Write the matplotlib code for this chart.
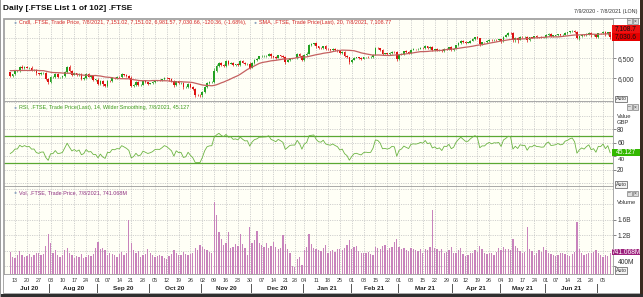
import numpy as np
import pandas as pd
import matplotlib
matplotlib.use("Agg")
import matplotlib.pyplot as plt
from matplotlib.patches import Rectangle
from matplotlib.transforms import blended_transform_factory

plt.rcParams['font.family'] = ['Liberation Sans', 'DejaVu Sans']

W, H = 643, 297

# trading days shown (LSE holidays dropped, Dec 28 kept as the chart labels it)
holidays = ["2020-08-31", "2020-12-25", "2021-01-01", "2021-04-02",
            "2021-04-05", "2021-05-03", "2021-05-31"]
dates = pd.bdate_range("2020-07-09", "2021-07-08")
dates = dates[~dates.isin(pd.to_datetime(holidays))]

# closes before the window, only used to seed SMA(20) / RSI(14)
pre_close = [6049, 5986, 6068, 6015, 5993, 6068, 6144, 6219, 6077,
             6166, 6220, 6382, 6341, 6484, 6473, 6335, 6329, 6077, 6105,
             6064, 6243, 6254, 6224, 6293, 6245, 6320, 6124, 6147, 6159,
             6225, 6170, 6158, 6240, 6157, 6286, 6189, 6156]

# daily closes, one row per week
close = [
    6050, 6095,
    6176, 6180, 6292, 6250, 6290,
    6261, 6269, 6207, 6211, 6124,
    6104, 6129, 6132, 5990, 5898,
    6032, 6036, 6104, 6027, 6032,
    6050, 6154, 6280, 6186, 6090,
    6127, 6077, 6112, 5977, 6002,
    6104, 6037, 6046, 5964, 5964,
    5862, 5941, 5851, 5800,
    5938, 5931, 6013, 6004, 6033,
    6026, 6105, 6079, 6050, 6007,
    5805, 5829, 5899, 5823, 5843,
    5927, 5898, 5866, 5880, 5902,
    5943, 5949, 5946, 5978, 6017,
    6001, 5970, 5935, 5832, 5920,
    5884, 5889, 5776, 5786, 5860,
    5792, 5729, 5583, 5582, 5577,
    5655, 5787, 5883, 5906, 5910,
    6186, 6297, 6382, 6339, 6316,
    6421, 6365, 6385, 6334, 6351,
    6334, 6433, 6393, 6363, 6368,
    6266, 6385, 6463, 6490, 6550,
    6555, 6559, 6564, 6599, 6547,
    6531, 6513, 6570, 6551, 6529,
    6416, 6454, 6496, 6502,
    6502, 6602, 6555, 6461,
    6572, 6612, 6841, 6857, 6873,
    6799, 6754, 6746, 6802, 6736,
    6720, 6712, 6740, 6715, 6695,
    6638, 6654, 6567, 6526, 6407,
    6467, 6516, 6524, 6504, 6489,
    6524, 6532, 6524, 6528, 6589,
    6756, 6749, 6711, 6617, 6624,
    6612, 6626, 6659, 6652, 6483,
    6588, 6614, 6675, 6651, 6631,
    6719, 6730, 6726, 6737, 6761,
    6750, 6804, 6763, 6779, 6709,
    6726, 6699, 6713, 6675, 6741,
    6737, 6772, 6714, 6737,
    6824, 6886, 6942, 6916,
    6890, 6890, 6940, 6984, 7020,
    7000, 6860, 6896, 6895, 6938,
    6963, 6945, 6964, 6962, 6970,
    6924, 7040, 7077, 7130,
    7124, 6948, 7005, 6964, 7044,
    7033, 7035, 6950, 7020, 7018,
    7052, 7030, 7027, 7020, 7023,
    7081, 7108, 7065, 7069,
    7077, 7095, 7081, 7088, 7134,
    7147, 7172, 7185, 7153, 7017,
    7062, 7090, 7074, 7110, 7137,
    7072, 7088, 7037, 7125, 7123,
    7165, 7101, 7151, 7031,
]

# wick length above / below the candle body (index points)
wick_hi = [
    12, 20, 25, 18, 10, 30, 14, 22, 15, 28, 12, 20, 18, 26, 14, 35, 20,
    30, 16, 22, 28, 12, 15, 24, 18, 40, 22, 20, 14, 26, 18, 30,
    16, 28, 12, 22, 18, 35, 20, 26, 14, 18, 24, 30, 16, 12,
    22, 18, 14, 28, 20, 40, 16, 22, 30, 18, 14, 26, 20, 12, 24,
    18, 12, 22, 16, 20, 24, 18, 30, 14, 22, 16, 20, 28, 24, 12,
    26, 18, 35, 22, 30, 20, 30, 18, 26, 14, 70, 60, 30, 28, 22,
    25, 32, 18, 26, 14, 20, 16, 28, 18, 12, 30, 22, 18, 26, 14,
    16, 20, 12, 24, 30, 18, 26, 14, 20, 22, 40, 18, 16, 10, 0, 20, 30, 18,
    26, 40, 18, 22, 14, 35, 20, 28, 16, 24, 18, 22, 14, 26, 20,
    24, 18, 30, 22, 16, 20, 26, 14, 18, 22, 16, 12, 24, 20, 18,
    22, 30, 16, 24, 14, 18, 20, 26, 16, 30, 24, 14, 18, 22, 20,
    16, 20, 12, 24, 18, 20, 26, 14, 18, 28, 18, 22, 16, 20, 14,
    22, 16, 24, 18, 20, 26, 14, 18, 16, 22, 18, 14, 24,
    30, 18, 20, 16, 22, 14, 20, 18, 12, 24, 18, 26, 22, 20,
    24, 30, 18, 22, 16, 20, 14, 28, 18, 22, 16, 18, 12, 20, 14,
    22, 18, 24, 16, 14, 20, 16, 12, 22, 18, 16, 20, 24, 28,
    22, 18, 14, 20, 16, 24, 20, 30, 18, 16, 20, 26, 18, 0,
]
wick_lo = [
    30, 18, 20, 26, 14, 22, 18, 16, 24, 30, 18, 35, 28, 20, 16, 40, 30,
    22, 18, 26, 14, 20, 18, 22, 16, 24, 30, 14, 26, 20, 28, 18,
    24, 16, 22, 20, 26, 30, 22, 40, 28, 18, 26, 14, 20, 16,
    22, 14, 18, 26, 30, 35, 28, 16, 24, 20, 18, 22, 26, 14, 20,
    16, 20, 14, 18, 22, 24, 30, 26, 40, 18, 20, 16, 35, 22, 18,
    28, 30, 40, 26, 50, 45, 20, 24, 18, 30, 20, 40, 26, 30, 24,
    22, 28, 20, 26, 18, 30, 18, 22, 20, 26, 40, 16, 18, 22, 14,
    20, 18, 24, 16, 30, 22, 26, 18, 20, 24, 60, 20, 14, 12, 0, 16, 30, 40,
    26, 20, 14, 24, 18, 30, 28, 22, 16, 26, 20, 24, 18, 22, 26,
    28, 20, 30, 26, 40, 22, 18, 16, 20, 24, 18, 14, 22, 16, 20,
    16, 20, 28, 30, 18, 24, 22, 18, 20, 45, 20, 16, 24, 22, 26,
    18, 22, 20, 16, 14, 24, 18, 26, 20, 30, 22, 26, 18, 30, 16,
    20, 18, 28, 22, 16, 14, 20, 24, 22, 18, 16, 14, 20,
    18, 60, 24, 22, 16, 20, 24, 18, 26, 22, 30, 18, 16, 20,
    20, 40, 30, 80, 18, 22, 26, 50, 20, 18, 16, 22, 20, 18, 24,
    18, 20, 26, 22, 20, 16, 18, 24, 14, 18, 20, 16, 22, 40,
    70, 20, 26, 18, 16, 30, 22, 40, 18, 20, 18, 35, 22, 49,
]

# daily volume, millions of shares
volume_m = [
    780, 650,
    620, 700, 810, 690, 640,
    680, 720, 650, 700, 760,
    740, 690, 720, 920, 1240,
    1000, 760, 820, 700, 640,
    690, 820, 880, 740, 700,
    620, 680, 650, 720, 610,
    640, 700, 680, 720, 870,
    1030, 860, 880, 820,
    700, 760, 720, 690, 640,
    720, 780, 700, 740, 1600,
    1000, 820, 760, 800, 640,
    700, 720, 860, 760, 700,
    640, 680, 700, 660, 620,
    600, 680, 720, 820, 760,
    700, 690, 780, 720, 700,
    720, 760, 880, 820, 960,
    900, 860, 820, 780, 760,
    2060, 1730, 1300, 1100, 960,
    1000, 1290, 880, 900, 980,
    920, 1250, 980, 880, 700,
    1420, 1000, 1080, 1320, 1000,
    960, 900, 1000, 880, 920,
    1020, 900, 860, 880, 1200,
    980, 860, 740, 420,
    380, 600, 640, 440,
    820, 900, 1250, 980, 880,
    860, 820, 800, 880, 960,
    760, 800, 820, 780, 840,
    860, 820, 880, 960, 1080,
    860, 900, 920, 800, 760,
    740, 760, 780, 720, 700,
    900, 880, 860, 940, 960,
    820, 880, 900, 1020, 1120,
    900, 860, 880, 820, 800,
    880, 860, 820, 800, 840,
    760, 860, 820, 900, 1850,
    880, 840, 800, 860, 760,
    780, 820, 900, 740,
    760, 820, 880, 720,
    680, 700, 740, 760, 820,
    780, 920, 840, 760, 720,
    740, 760, 700, 780, 880,
    820, 900, 840, 860,
    820, 1100, 920, 880, 800,
    740, 780, 1420, 860, 800,
    700, 760, 820, 780, 900,
    820, 760, 720, 700,
    680, 700, 740, 760, 720,
    700, 680, 720, 780, 1550,
    860, 760, 700, 720, 740,
    740, 780, 820, 760, 700,
    640, 700, 680, 741,
]

x = np.arange(len(dates))
c = np.array(close, float)
# FTSE opens at the prior close (legend: open 7,151.02 = previous close)
o = np.array([pre_close[-1]] + close[:-1], float)
hi = np.maximum(o, c) + np.array(wick_hi)
lo = np.minimum(o, c) - np.array(wick_lo)
vol = np.array(volume_m) / 1000.0

full = np.array(pre_close + close, float)
npre = len(pre_close)
sma = pd.Series(full).rolling(20).mean().values[npre:]
d = np.diff(full)
g = np.clip(d, 0, None)
l = np.clip(-d, 0, None)
ag, al = g[:14].mean(), l[:14].mean()
rsi_full = np.full(len(full), np.nan)
rsi_full[14] = 100 - 100 / (1 + ag / al)
for k in range(14, len(d)):
    ag = (ag * 13 + g[k]) / 14
    al = (al * 13 + l[k]) / 14
    rsi_full[k + 1] = 100 - 100 / (1 + ag / al)
rsi = rsi_full[npre:]

# ---------------------------------------------------------------- layout
fig = plt.figure(figsize=(W / 100, H / 100), dpi=100)
fig.patch.set_facecolor("white")
L, R = 4, 613
XL = (-2.64, 254.2)
BG = "#fffff6"
GRID = "#c4c4c4"


def px_axes(top, bottom):
    ax = fig.add_axes([L / W, 1 - bottom / H, (R - L) / W, (bottom - top) / H])
    ax.set_facecolor(BG)
    ax.set_xlim(*XL)
    ax.set_xticks([])
    ax.yaxis.tick_right()
    ax.tick_params(axis="y", labelsize=4.8, length=2, width=0.5, pad=1,
                   colors="#555555", labelcolor="#333333")
    for s in ax.spines.values():
        s.set_color("#9a9a9a")
        s.set_linewidth(0.6)
    return ax


def fx(px):
    return px / W


def fy(py):
    return 1 - py / H


week_start = pd.Series(x, index=dates).groupby(dates.to_period("W")).min().values[1:]

ax_p = px_axes(19, 101)
ax_r = px_axes(101, 186)
ax_v = px_axes(186, 274)

for ax, hl in ((ax_p, [5500, 6000, 6500, 7000]),
               (ax_r, [0, 20, 40, 60, 80, 100, 120]),
               (ax_v, [0.4, 0.8, 1.2, 1.6, 2.0, 2.4])):
    for xv in week_start:
        ax.axvline(xv, color=GRID, lw=0.55, ls=(0, (1.5, 1.5)), zorder=0)
    for yv in hl:
        ax.axhline(yv, color=GRID, lw=0.55, ls=(0, (1.5, 1.5)), zorder=0)

# price candles + SMA
ax_p.set_ylim(5432, 7482)
up = c >= o
col = np.where(up, "#22a022", "#dd1111")
ax_p.vlines(x, lo, hi, colors=col, lw=0.5, zorder=2)
ax_p.bar(x, np.maximum(np.abs(c - o), 6), bottom=np.minimum(o, c), width=0.7,
         color=col, linewidth=0, zorder=3)
ax_p.plot(x, sma, color="#c46060", lw=0.9, zorder=4)
ax_p.set_yticks([6000, 6500, 7000])
ax_p.set_yticklabels(["6,000", "6,500", ""])  # 7,000 sits under the value boxes

# RSI
ax_r.set_ylim(-4.07, 121.9)
ax_r.axhline(70, color="#5aa832", lw=0.9, zorder=2)
ax_r.axhline(30, color="#5aa832", lw=0.9, zorder=2)
ax_r.plot(x, rsi, color="#6cb443", lw=0.6, zorder=3)
ax_r.set_yticks([20, 40, 60, 80])
ax_r.set_yticklabels(["20", "", "60", "80"])
fig.text(fx(617.5), fy(159.5), "40", fontsize=4.6, color="#333333", va="center")

# volume
ax_v.set_ylim(0.206, 2.477)
ax_v.bar(x, vol - 0.206, bottom=0.206, width=0.55, color="#c883bc",
         linewidth=0, zorder=2)
ax_v.set_yticks([0.4, 0.8, 1.2, 1.6])
ax_v.set_yticklabels(["", "", "1.2B", "1.6B"])
fig.text(fx(617.5), fy(263), "400M", fontsize=4.8, color="#333333", va="center")

# ---------------------------------------------------------------- x axis labels
tr = blended_transform_factory(ax_v.transData, fig.transFigure)
for xv in week_start:
    fig.text(xv, fy(280.5), dates[xv].strftime("%d"), transform=tr,
             fontsize=3.9, color="#333333", ha="center", va="center")
months = pd.Series(x, index=dates).groupby(dates.to_period("M"))
for per, idx in months:
    first, last = idx.min(), idx.max()
    if first > 0:
        fig.add_artist(plt.Line2D([first - 0.5, first - 0.5], [fy(283.5), fy(292)],
                                  transform=tr, color="#555555", lw=0.7))
    if last < len(x) - 1:
        fig.text((first + last) / 2, fy(288.5), per.strftime("%b %y"),
                 transform=tr, fontsize=4.6, fontweight="bold",
                 color="#222222", ha="center", va="center")

# ---------------------------------------------------------------- header / legends
fig.text(fx(3), fy(9), "Daily [.FTSE List 1 of 102] .FTSE", fontsize=6.0,
         fontweight="bold", color="#111111", va="center")
fig.text(fx(637), fy(11.5), "7/9/2020 - 7/8/2021 (LON)", fontsize=3.9,
         color="#333333", ha="right", va="center")


def legend(px, py, txt, color):
    fig.text(fx(px - 4), fy(py), "\u25cf", fontsize=3.6, color="#8fa6bf",
             ha="center", va="center")
    fig.text(fx(px), fy(py), txt, fontsize=3.9, color=color, va="center")


legend(19, 22.5, "Cndl, .FTSE, Trade Price, 7/8/2021, 7,151.02, 7,151.02, "
       "6,981.57, 7,030.66, -120.36, (-1.68%),", "#d42424")
legend(259, 22.5, "SMA, .FTSE, Trade Price(Last), 20, 7/8/2021, 7,108.77", "#d42424")
legend(19, 107.5, "RSI, .FTSE, Trade Price(Last), 14, Wilder Smoothing, "
       "7/8/2021, 45.127", "#3d9a1c")
legend(19, 193, "Vol, .FTSE, Trade Price, 7/8/2021, 741.068M", "#8e2f80")


def value_box(y0, y1, fc, txt, tc):
    fig.add_artist(Rectangle((fx(612), fy(y1)), fx(640) - fx(612), fy(y0) - fy(y1),
                             transform=fig.transFigure, facecolor=fc,
                             edgecolor="none", zorder=5))
    fig.text(fx(626), fy((y0 + y1) / 2), txt, fontsize=4.8, color=tc,
             ha="center", va="center", zorder=6)


value_box(25, 33, "#ee1111", "7,108.7", "#111111")
value_box(33, 40.5, "#e60000", "7,030.6", "#111111")
value_box(149, 155.5, "#33b800", "45.127", "white")
value_box(249, 255, "#9c1f7c", "741.068M", "white")

fig.text(fx(617), fy(116), "Value", fontsize=4.2, color="#333333", va="center")
fig.text(fx(617), fy(123), "GBP", fontsize=4.2, color="#333333", va="center")
fig.text(fx(617), fy(202), "Volume", fontsize=4.2, color="#333333", va="center")

for yc in (99, 184.5, 270.5):
    fig.text(fx(621), fy(yc), "Auto", fontsize=3.8, color="#333333",
             ha="center", va="center",
             bbox=dict(boxstyle="square,pad=0.15", fc="#f4f4f4", ec="#555555", lw=0.5))

for yc in (21, 107, 193):
    for xc, glyph in ((629, "\u2013"), (635, "\u00d7")):
        fig.add_artist(Rectangle((fx(xc - 2.5), fy(yc + 2.5)), 5 / W, 5 / H,
                                 transform=fig.transFigure, facecolor="#dcdcdc",
                                 edgecolor="#666666", lw=0.4, zorder=5))
        fig.text(fx(xc), fy(yc), glyph, fontsize=3.5, color="#333333",
                 ha="center", va="center", zorder=6)

# outer frame
fig.add_artist(Rectangle((fx(2.5), fy(293)), fx(640) - fx(2.5), fy(18) - fy(293),
                         transform=fig.transFigure, facecolor="none",
                         edgecolor="#9a9a9a", lw=0.6))
fig.add_artist(Rectangle((fx(640), 0), 1 - fx(640), 1, transform=fig.transFigure,
                         facecolor="#3a2a1f", edgecolor="none"))
fig.add_artist(Rectangle((0, 0), 1, fy(294), transform=fig.transFigure,
                         facecolor="#2f2f2f", edgecolor="none"))
fig.add_artist(Rectangle((0, 0), fx(1.2), 1, transform=fig.transFigure,
                         facecolor="#9c9c9c", edgecolor="none"))

fig.savefig("out.png", dpi=100)
